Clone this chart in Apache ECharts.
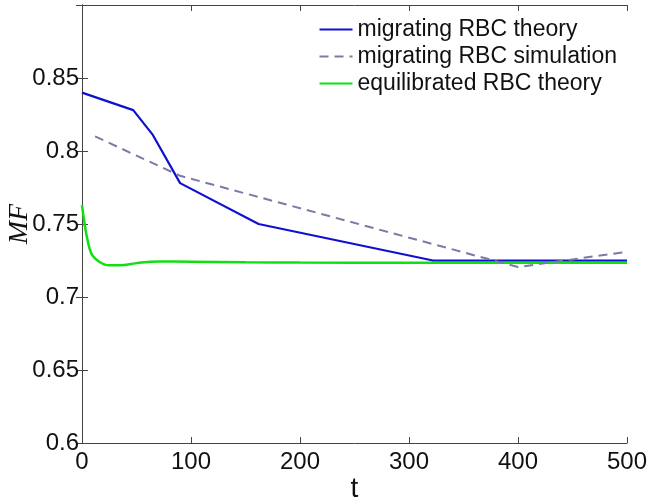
<!DOCTYPE html>
<html>
<head>
<meta charset="utf-8">
<script src="https://cdn.jsdelivr.net/npm/echarts@6/dist/echarts.min.js"></script>
<style>html,body{margin:0;padding:0;background:#fff}#c{width:648px;height:498px}</style>
</head>
<body>
<div id="c"></div>
<script>
var seriesNames = ['migrating RBC theory', 'migrating RBC simulation', 'equilibrated RBC theory'];
var tTheory = [0, 47, 65, 90, 162, 322, 500];
var mfTheory = [0.840, 0.828, 0.811, 0.778, 0.750, 0.725, 0.725];
var tSim = [12, 90, 400, 500];
var mfSim = [0.810, 0.783, 0.7205, 0.731];
var tEq = [0, 2, 4, 7, 10, 16, 25, 35, 50, 70, 100, 150, 200, 300, 400, 500];
var mfEq = [0.763, 0.752, 0.743, 0.733, 0.728, 0.724, 0.7217, 0.7217, 0.7232, 0.7243, 0.7242, 0.7238, 0.7236, 0.7235, 0.7235, 0.7235];
var xTicks = [0, 100, 200, 300, 400, 500];
var yTicks = [0.6, 0.65, 0.7, 0.75, 0.8, 0.85];

function pairs(xs, ys){ return xs.map(function(x,i){ return [x, ys[i]]; }); }

var font = 'Liberation Sans, Arial, sans-serif';
var axisLine = {show: true, lineStyle: {color: '#444', width: 1}};
var chart = echarts.init(document.getElementById('c'));
chart.setOption({
  animation: false,
  backgroundColor: '#fff',
  grid: {left: 82, right: 21, top: 5, bottom: 55, containLabel: false, outerBoundsMode: 'none'},
  legend: {
    orient: 'vertical', right: 26, top: 13, itemGap: 4,
    itemWidth: 33, itemHeight: 10,
    itemStyle: {opacity: 0},
    textStyle: {fontFamily: font, fontSize: 23, color: '#111'},
    data: seriesNames
  },
  xAxis: [{
    type: 'value', min: 0, max: 500, interval: 100,
    axisLine: axisLine,
    axisTick: {show: true, inside: true, length: 6, lineStyle: {color: '#444'}},
    axisLabel: {fontFamily: font, fontSize: 24, color: '#111', margin: 7},
    splitLine: {show: false},
    name: 't', nameLocation: 'middle', nameGap: 32, nameMoveOverlap: false,
    nameTextStyle: {fontFamily: font, fontSize: 28, color: '#111'}
  }, {
    type: 'value', min: 0, max: 500, interval: 100, position: 'top',
    axisLine: axisLine,
    axisTick: {show: true, inside: true, length: 6, lineStyle: {color: '#444'}},
    axisLabel: {show: false}, splitLine: {show: false}
  }],
  yAxis: [{
    type: 'value', min: 0.6, max: 0.9, interval: 0.05,
    axisLine: axisLine,
    axisTick: {show: true, inside: true, length: 6, lineStyle: {color: '#444'}},
    axisLabel: {fontFamily: font, fontSize: 24, color: '#111', margin: 3,
      formatter: function(v){ return v > 0.89 ? '' : String(+v.toFixed(2)); }},
    splitLine: {show: false},
    name: 'MF', nameLocation: 'middle', nameGap: 48, nameRotate: 90, nameMoveOverlap: false,
    nameTextStyle: {fontFamily: 'Liberation Serif, Times New Roman, serif', fontStyle: 'italic', fontSize: 28, color: '#111'}
  }, {
    type: 'value', min: 0.6, max: 0.9, interval: 0.05, position: 'right',
    axisLine: axisLine,
    axisTick: {show: true, inside: true, length: 6, lineStyle: {color: '#444'}},
    axisLabel: {show: false}, splitLine: {show: false}
  }],
  series: [{
    name: seriesNames[0], type: 'line', symbol: 'none', xAxisIndex: 0, yAxisIndex: 0,
    data: pairs(tTheory, mfTheory),
    lineStyle: {color: '#1010d0', width: 2.2}, itemStyle: {color: '#1010d0'}, z: 3
  }, {
    name: seriesNames[1], type: 'line', symbol: 'none', xAxisIndex: 0, yAxisIndex: 0,
    data: pairs(tSim, mfSim),
    lineStyle: {color: '#7a7aa6', width: 2, type: [9, 6]}, itemStyle: {color: '#7a7aa6'}, z: 4
  }, {
    name: seriesNames[2], type: 'line', symbol: 'none', smooth: 0.4, xAxisIndex: 0, yAxisIndex: 0,
    data: pairs(tEq, mfEq),
    lineStyle: {color: '#10e010', width: 2.5}, itemStyle: {color: '#10e010'}, z: 2
  }]
});
</script>
</body>
</html>
